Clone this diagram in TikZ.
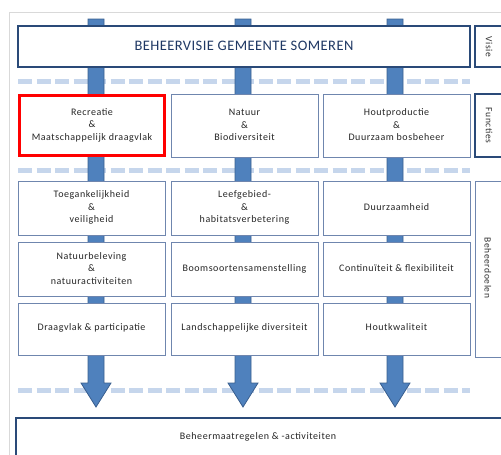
\documentclass[tikz,border=0pt]{standalone}
\usepackage{fontspec}
\setmainfont{Carlito}
\definecolor{arrowfill}{HTML}{4F81BD}
\definecolor{arrowline}{HTML}{3A5F8F}
\definecolor{dashcol}{HTML}{C6D6EC}
\definecolor{boxline}{HTML}{6F86AE}
\definecolor{navy}{HTML}{2A4A78}
\definecolor{titletext}{HTML}{1F3864}
\definecolor{framegray}{HTML}{D9D9D9}
\tikzset{
  cell/.style={draw=boxline, line width=0.9pt, fill=white},
  celltext/.style={font=\fontsize{10}{12.5}\selectfont\addfontfeature{LetterSpace=5.5}, align=center, text=black!85},
  sepline/.style={dashcol, line width=5pt, dash pattern=on 14pt off 4.5pt},
  blockarrow/.style={fill=arrowfill, draw=arrowline, line width=0.8pt},
  sidetext/.style={font=\fontsize{9.5}{11}\selectfont\addfontfeature{LetterSpace=6}, rotate=-90, text=black!80},
}
\begin{document}
\begin{tikzpicture}[x=1pt,y=-1pt]
\useasboundingbox (0,0) rectangle (501,455);
\clip (0,0) rectangle (501,455);
% outer frame
\draw[framegray, line width=0.8pt] (9,470) -- (9,12) -- (520,12);
% separators
\draw[sepline] (18,81) -- (470,81);
\draw[sepline] (18,170) -- (470,170);
\draw[sepline] (18,390) -- (470,390);
% block arrows
\foreach \cx/\nm in {96/a1,243/a2,395/a3}{
  \coordinate (\nm top) at (\cx,19);
  \coordinate (\nm tip) at (\cx,407);
  \draw[blockarrow] (\cx-8,19) -- (\cx+8,19) -- (\cx+8,383) -- (\cx+15,383)
     -- (\cx,407) -- (\cx-15,383) -- (\cx-8,383) -- cycle;
}
% title
\draw[draw=navy, line width=1.5pt, fill=white] (18,26) rectangle (470,67);
\node[font=\fontsize{14.5}{16}\selectfont\addfontfeature{LetterSpace=3}, text=titletext] (title) at (244,45.5) {BEHEERVISIE GEMEENTE SOMEREN};
\draw[draw=navy, line width=1.2pt, fill=white] (475,26) rectangle (520,67);
\node[sidetext] (visie) at (489,47) {Visie};
% functions
\draw[cell] (171,94) rectangle (318,157);
\draw[cell] (323,94) rectangle (470,157);
\draw[draw=red, line width=3.5pt, fill=white] (19.5,95.5) rectangle (164.5,155.5);
\node[celltext] (f1) at (92,125) {Recreatie\\\&\\Maatschappelijk draagvlak};
\node[celltext] (f2) at (244.5,125) {Natuur\\\&\\Biodiversiteit};
\node[celltext] (f3) at (396.5,125) {Houtproductie\\\&\\Duurzaam bosbeheer};
\draw[draw=navy, line width=1.1pt, fill=white] (475,94) rectangle (520,157);
\node[sidetext] (functies) at (489,125.5) {Functies};
% goals
\foreach \ya/\yb in {181/235,242/296,303/355}{
  \draw[cell] (18,\ya) rectangle (165,\yb);
  \draw[cell] (171,\ya) rectangle (318,\yb);
  \draw[cell] (323,\ya) rectangle (470,\yb);
}
\node[celltext] (g11) at (91.5,207.5) {Toegankelijkheid\\\&\\veiligheid};
\node[celltext] (g12) at (244.5,207.5) {Leefgebied-\\\&\\habitatsverbetering};
\node[celltext] (g13) at (396.5,207.5) {Duurzaamheid};
\node[celltext] (g21) at (91.5,268.5) {Natuurbeleving\\\&\\natuuractiviteiten};
\node[celltext] (g22) at (244.5,268.5) {Boomsoortensamenstelling};
\node[celltext] (g23) at (396.5,268.5) {Continuïteit \& flexibiliteit};
\node[celltext] (g31) at (91.5,327.5) {Draagvlak \& participatie};
\node[celltext] (g32) at (244.5,327.5) {Landschappelijke diversiteit};
\node[celltext] (g33) at (396.5,327.5) {Houtkwaliteit};
\draw[cell] (475,181) rectangle (520,357);
\node[sidetext] (doelen) at (488,268) {Beheerdoelen};
% bottom
\draw[draw=navy, line width=1.5pt, fill=white] (16,418) rectangle (520,470);
\node[celltext] (bottom) at (258,437) {Beheermaatregelen \& -activiteiten};
\end{tikzpicture}
\end{document}
